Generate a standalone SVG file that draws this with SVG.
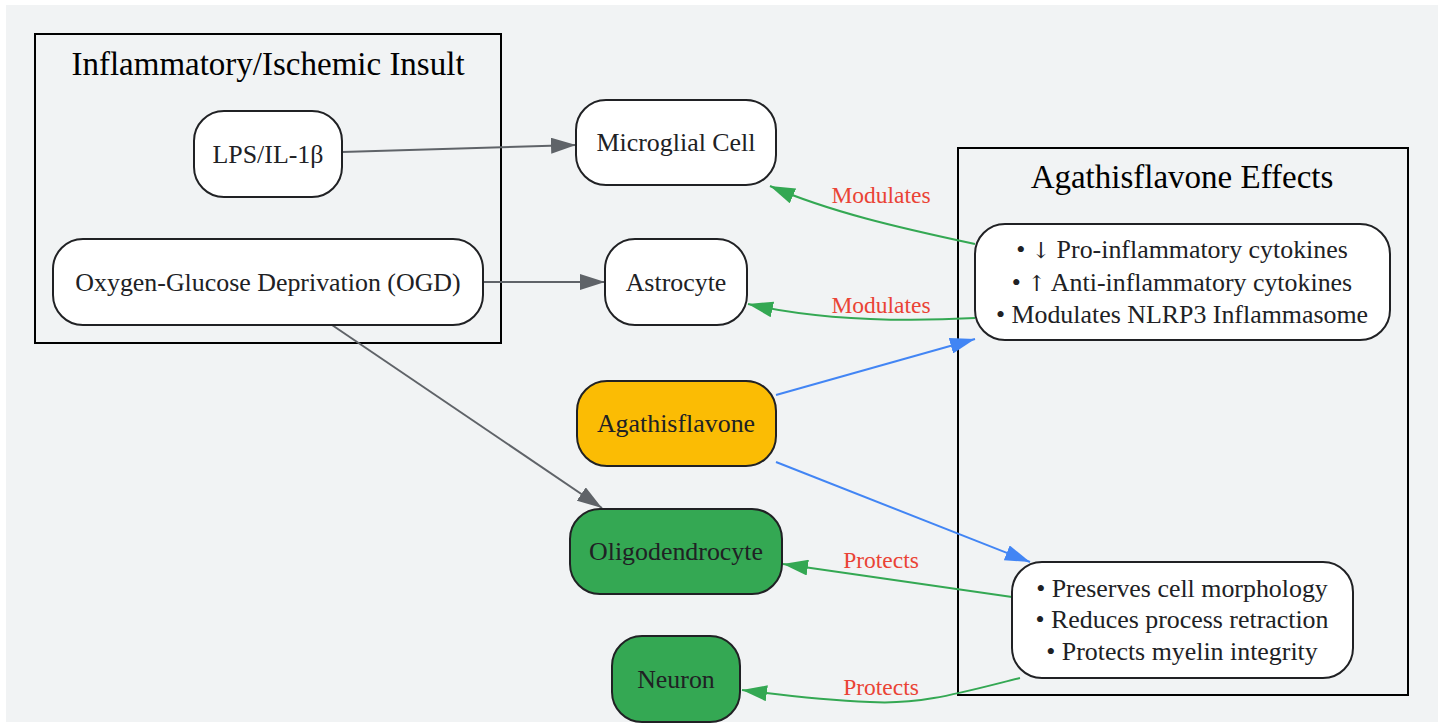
<svg xmlns="http://www.w3.org/2000/svg" width="1443" height="726" viewBox="0 0 1443 726">
<style>
.bg{fill:#f1f3f4}
.cluster{fill:none;stroke:#000;stroke-width:2}
.ctitle{font-family:"Liberation Serif",serif;font-size:33px;fill:#000;text-anchor:middle}
.node{stroke:#202124;stroke-width:2}
.nt{font-family:"Liberation Serif","DejaVu Serif",serif;font-size:25.9px;fill:#202124;text-anchor:middle}
.ar{font-family:"DejaVu Serif","DejaVu Sans",serif;font-size:22px;fill:#202124}
.el{font-family:"Liberation Serif",serif;font-size:23.5px;fill:#ea4335;text-anchor:middle}
.gray{fill:none;stroke:#5f6368;stroke-width:2}
.blue{fill:none;stroke:#4285f4;stroke-width:2}
.green{fill:none;stroke:#34a853;stroke-width:2}
</style>
<defs>
<marker id="ag" markerUnits="userSpaceOnUse" markerWidth="26" markerHeight="16" refX="25" refY="8" orient="auto"><path d="M0,0 L25,8 L0,16 Z" fill="#5f6368"/></marker>
<marker id="ab" markerUnits="userSpaceOnUse" markerWidth="26" markerHeight="16" refX="25" refY="8" orient="auto"><path d="M0,0 L25,8 L0,16 Z" fill="#4285f4"/></marker>
<marker id="agr" markerUnits="userSpaceOnUse" markerWidth="26" markerHeight="16" refX="25" refY="8" orient="auto"><path d="M0,0 L25,8 L0,16 Z" fill="#34a853"/></marker>
</defs>
<rect class="bg" x="6" y="5" width="1432" height="717"/>
<g id="cluster_insult">
<rect class="cluster" x="35" y="34" width="466" height="309"/>
<text class="ctitle" x="268" y="75">Inflammatory/Ischemic Insult</text>
</g>
<g id="cluster_effects">
<rect class="cluster" x="958" y="148" width="450" height="547"/>
<text class="ctitle" x="1182" y="188">Agathisflavone Effects</text>
</g>
<g id="connectors">
<path class="gray" d="M342,152 L576,145" marker-end="url(#ag)"/>
<path class="gray" d="M483,282 L605,282" marker-end="url(#ag)"/>
<path class="gray" d="M332,325 L602,508" marker-end="url(#ag)"/>
<path class="blue" d="M776,395 L975,339" marker-end="url(#ab)"/>
<path class="blue" d="M776,462 L1030,562" marker-end="url(#ab)"/>
<path class="green" d="M975,244 C900,228 830,212 770,186" marker-end="url(#agr)"/>
<path class="green" d="M975,318 C900,322 820,320 748,304" marker-end="url(#agr)"/>
<path class="green" d="M1012,597 L783,564" marker-end="url(#agr)"/>
<path class="green" d="M1020,678 C960,693 920,705 870,702 C820,700 780,695 742,690" marker-end="url(#agr)"/>
<text class="el" x="881" y="203">Modulates</text>
<text class="el" x="881" y="313">Modulates</text>
<text class="el" x="881" y="568">Protects</text>
<text class="el" x="881" y="695">Protects</text>
</g>
<g id="node_lps">
<rect class="node" x="194" y="111" width="148" height="86" rx="30" fill="#fff"/>
<text class="nt" x="268" y="163">LPS/IL-1β</text>
</g>
<g id="node_ogd">
<rect class="node" x="53" y="239" width="430" height="86" rx="30" fill="#fff"/>
<text class="nt" x="268" y="291">Oxygen-Glucose Deprivation (OGD)</text>
</g>
<g id="node_microglia">
<rect class="node" x="576" y="100" width="200" height="85" rx="30" fill="#fff"/>
<text class="nt" x="676" y="151">Microglial Cell</text>
</g>
<g id="node_astrocyte">
<rect class="node" x="605" y="239" width="142" height="86" rx="30" fill="#fff"/>
<text class="nt" x="676" y="291">Astrocyte</text>
</g>
<g id="node_agathisflavone">
<rect class="node" x="577" y="381" width="199" height="85" rx="30" fill="#fbbc04"/>
<text class="nt" x="676" y="432">Agathisflavone</text>
</g>
<g id="node_oligodendrocyte">
<rect class="node" x="570" y="509" width="212" height="85" rx="30" fill="#34a853"/>
<text class="nt" x="676" y="560">Oligodendrocyte</text>
</g>
<g id="node_neuron">
<rect class="node" x="612" y="636" width="128" height="86" rx="30" fill="#34a853"/>
<text class="nt" x="676" y="688">Neuron</text>
</g>
<g id="node_effects1">
<rect class="node" x="975" y="224" width="415" height="116" rx="30" fill="#fff"/>
<text class="nt" x="1182" y="258">• <tspan class="ar">↓</tspan> Pro-inflammatory cytokines</text>
<text class="nt" x="1182" y="291">• <tspan class="ar">↑</tspan> Anti-inflammatory cytokines</text>
<text class="nt" x="1182" y="323">• Modulates NLRP3 Inflammasome</text>
</g>
<g id="node_effects2">
<rect class="node" x="1012" y="562" width="341" height="116" rx="30" fill="#fff"/>
<text class="nt" x="1182" y="597">• Preserves cell morphology</text>
<text class="nt" x="1182" y="628">• Reduces process retraction</text>
<text class="nt" x="1182" y="660">• Protects myelin integrity</text>
</g>
</svg>
